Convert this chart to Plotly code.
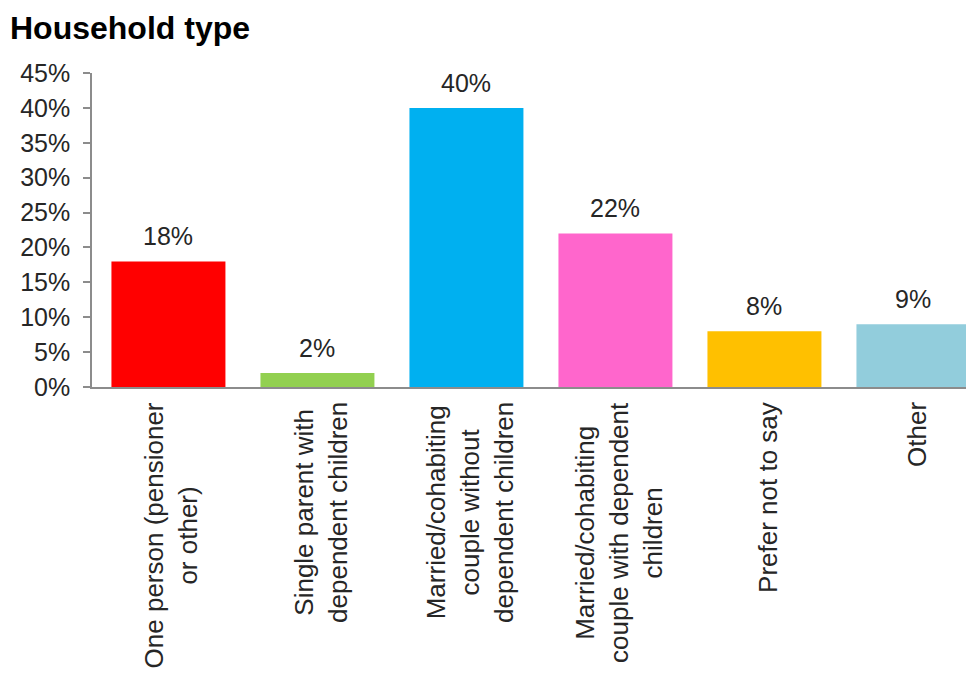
import plotly.graph_objects as go

categories = [
    "One person (pensioner<br>or other)",
    "Single parent with<br>dependent children",
    "Married/cohabiting<br>couple without<br>dependent children",
    "Married/cohabiting<br>couple with dependent<br>children",
    "Prefer not to say",
    "Other",
]
values = [18, 2, 40, 22, 8, 9]
colors = ["#FF0000", "#92D050", "#00B0F0", "#FF66CC", "#FFC000", "#92CDDC"]
y_ticks = [0, 5, 10, 15, 20, 25, 30, 35, 40, 45]
y_tick_labels = [f"{v}%" for v in y_ticks]

FONT = "Liberation Sans, Arial, sans-serif"
TXT = "#262626"

# page body has an 8px margin, so the figure is sized to fit the 974x675 window
W, H = 966, 667

fig = go.Figure()
fig.add_trace(go.Bar(
    x=list(range(len(categories))),
    y=values,
    marker=dict(color=colors, line=dict(width=0)),
    width=0.765,
    hoverinfo="skip",
))

annotations = []
for i, (c, v) in enumerate(zip(categories, values)):
    annotations.append(dict(
        x=i, y=v, xref="x", yref="y", text=f"{v}%", showarrow=False,
        yanchor="bottom", yshift=9, font=dict(family=FONT, size=25, color=TXT),
    ))
    annotations.append(dict(
        x=i, y=0, xref="x", yref="y", text=c, showarrow=False,
        textangle=-90, yanchor="top", xanchor="center", align="center",
        yshift=-13, xshift=3, font=dict(family=FONT, size=26, color=TXT),
    ))

fig.update_layout(
    width=W, height=H,
    margin=dict(l=84, r=2, t=65, b=288),
    paper_bgcolor="white", plot_bgcolor="white",
    showlegend=False,
    title=dict(text="<b>Household type</b>", x=2/W, xanchor="left",
               xref="container", y=1 - 20/H, yanchor="middle", yref="container",
               font=dict(family=FONT, size=32, color="#000000")),
    xaxis=dict(range=[-0.513, 5.393], showticklabels=False, ticks="",
               showline=True, linecolor="#8C8C8C", linewidth=1.5,
               showgrid=False, zeroline=False, fixedrange=True),
    yaxis=dict(range=[0, 45], tickvals=y_ticks, ticktext=y_tick_labels,
               ticks="outside", ticklen=7, tickcolor="#8C8C8C", tickwidth=1.5,
               showline=True, linecolor="#8C8C8C", linewidth=1.5,
               showgrid=False, zeroline=False, ticklabelstandoff=8,
               tickfont=dict(family=FONT, size=25, color=TXT)),
    annotations=annotations,
)

fig.write_html("out.html")
